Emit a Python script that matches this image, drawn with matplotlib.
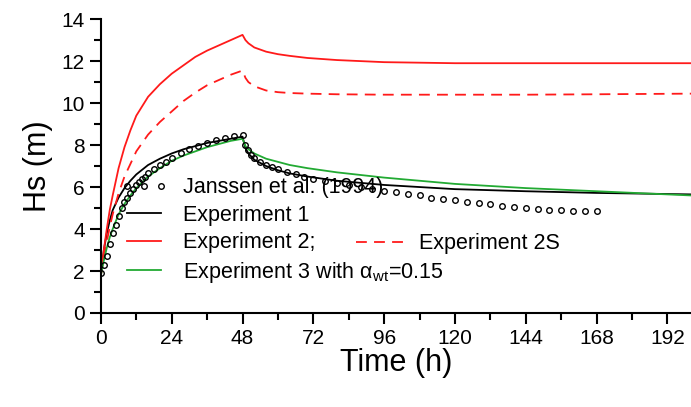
import matplotlib
matplotlib.use("Agg")
import matplotlib.pyplot as plt
from matplotlib.ticker import MultipleLocator

plt.rcParams['font.family'] = ['Liberation Sans', 'DejaVu Sans']

t_up = [0, 1, 2, 3, 4, 6, 8, 10, 12, 16, 20, 24, 28, 32, 36, 40, 44, 48]
exp2_up = [1.8, 3.0, 4.0, 4.9, 5.6, 6.9, 7.9, 8.7, 9.4, 10.3, 10.9, 11.4, 11.8, 12.2, 12.5, 12.75, 13.0, 13.25]
exp2s_up = [1.8, 2.7, 3.4, 4.1, 4.7, 5.7, 6.5, 7.1, 7.7, 8.5, 9.1, 9.6, 10.1, 10.5, 10.85, 11.1, 11.35, 11.55]
exp1_up = [1.8, 3.0, 3.8, 4.4, 4.9, 5.5, 5.95, 6.3, 6.6, 7.05, 7.35, 7.6, 7.8, 7.95, 8.1, 8.2, 8.3, 8.4]
exp3_up = [1.8, 2.5, 3.1, 3.6, 4.0, 4.7, 5.2, 5.6, 5.95, 6.5, 6.9, 7.25, 7.5, 7.7, 7.9, 8.05, 8.2, 8.3]
t_dn = [48, 49, 50, 52, 56, 60, 64, 70, 80, 96, 120, 144, 168, 200]
exp2_dn = [13.25, 13.0, 12.85, 12.65, 12.45, 12.33, 12.25, 12.15, 12.05, 11.95, 11.9, 11.9, 11.9, 11.9]
exp2s_dn = [11.55, 11.2, 11.0, 10.8, 10.6, 10.52, 10.48, 10.45, 10.42, 10.4, 10.4, 10.4, 10.42, 10.45]
exp1_dn = [8.4, 7.85, 7.6, 7.3, 7.0, 6.8, 6.65, 6.5, 6.3, 6.1, 5.9, 5.8, 5.72, 5.65]
exp3_dn = [8.3, 7.95, 7.8, 7.6, 7.35, 7.2, 7.05, 6.9, 6.7, 6.45, 6.15, 5.95, 5.8, 5.6]
t_j = [0, 1, 2, 3, 4, 5, 6, 7, 8, 9, 10, 11, 12, 13, 14, 15, 16, 18, 20, 22, 24, 27, 30, 33, 36, 39, 42, 45, 48,
       49, 50, 51, 52, 54, 56, 58, 60, 63, 66, 69, 72, 76, 80, 84, 88, 92, 96, 100, 104, 108, 112, 116, 120,
       124, 128, 132, 136, 140, 144, 148, 152, 156, 160, 164, 168]
j = [1.9, 2.3, 2.7, 3.3, 3.8, 4.2, 4.6, 5.0, 5.3, 5.5, 5.7, 5.9, 6.1, 6.25, 6.4, 6.5, 6.65, 6.85, 7.05, 7.2, 7.4,
     7.6, 7.8, 7.95, 8.1, 8.25, 8.35, 8.45, 8.5,
     8.0, 7.75, 7.55, 7.4, 7.2, 7.05, 6.95, 6.85, 6.7, 6.6, 6.5, 6.4, 6.3, 6.2, 6.1, 6.0, 5.9, 5.8, 5.75, 5.65,
     5.6, 5.5, 5.45, 5.4, 5.3, 5.25, 5.2, 5.1, 5.05, 5.0, 4.95, 4.9, 4.9, 4.85, 4.85, 4.85]

fig = plt.figure(figsize=(6.91, 4.07), dpi=100)
ax = fig.add_axes([0.146, 0.231, 0.854, 0.722])

t2 = t_up + t_dn[1:]
ax.plot(t2, exp1_up + exp1_dn[1:], color='black', lw=1.3, label='Experiment 1')
ax.plot(t2, exp2_up + exp2_dn[1:], color='#ff1a1a', lw=1.3, label='Experiment 2;')
l2s, = ax.plot(t2, exp2s_up + exp2s_dn[1:], color='#ff1a1a', lw=1.3, ls=(0, (6, 4)))
ax.plot(t2, exp3_up + exp3_dn[1:], color='#22aa33', lw=1.3,
        label='Experiment 3 with α$_\\mathregular{wt}$=0.15')
ax.plot(t_j, j, 'o', mfc='none', mec='black', ms=4, mew=1.0, label='Janssen et al. (1994)')

ax.set_xlim(0, 200)
ax.set_ylim(0, 14)
ax.xaxis.set_major_locator(MultipleLocator(24))
ax.xaxis.set_minor_locator(MultipleLocator(12))
ax.yaxis.set_major_locator(MultipleLocator(2))
ax.yaxis.set_minor_locator(MultipleLocator(1))
for s in ['top', 'right']:
    ax.spines[s].set_visible(False)
for s in ['left', 'bottom']:
    ax.spines[s].set_linewidth(1.5)
ax.tick_params(which='major', length=8, width=1.5, labelsize=15)
ax.tick_params(which='minor', length=5, width=1.5)
ax.set_xlabel('Time (h)', fontsize=22, labelpad=0)
ax.set_ylabel('Hs (m)', fontsize=22, labelpad=6)

h, lb = ax.get_legend_handles_labels()
order = [3, 0, 1, 2]
leg1 = ax.legend([h[i] for i in order], [lb[i] for i in order], loc='lower left',
                 bbox_to_anchor=(0.0, 0.03), frameon=False, fontsize=15.5,
                 handlelength=2.2, labelspacing=0.3, handletextpad=0.7,
                 numpoints=3)
ax.add_artist(leg1)
ax.legend([l2s], ['Experiment 2S'], loc='lower left', bbox_to_anchor=(0.40, 0.134),
          frameon=False, fontsize=15.5, handlelength=2.2, handletextpad=0.7)

fig.savefig('out.png', dpi=100)
